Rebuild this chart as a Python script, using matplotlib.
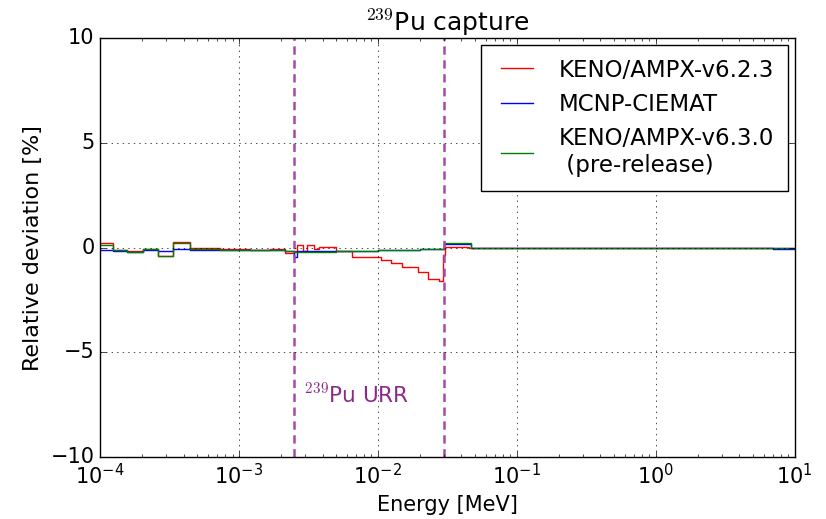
import matplotlib
matplotlib.use("Agg")
import numpy as np
import matplotlib.pyplot as plt

plt.style.use('classic')

# group boundaries [MeV] and relative deviations [%] for each library
red_edges = [1e-4, 1.24e-4, 1.56e-4, 2.04e-4, 2.61e-4, 3.35e-4, 4.44e-4, 7.3e-4,
             1.2e-3, 1.67e-3, 2.15e-3, 2.5e-3, 2.6e-3, 2.9e-3, 3.1e-3, 3.5e-3,
             3.8e-3, 5.0e-3, 6.5e-3, 1.05e-2, 1.25e-2, 1.5e-2, 1.95e-2, 2.3e-2,
             2.75e-2, 2.95e-2, 3.05e-2, 4.5e-2, 10.0]
red_vals = [0.20, -0.10, -0.15, -0.05, -0.40, 0.25, -0.02, -0.08,
            -0.12, -0.08, -0.25, -0.15, 0.12, -0.15, 0.10, -0.05,
            0.05, -0.15, -0.45, -0.57, -0.72, -0.95, -1.18, -1.52,
            -1.60, -0.35, 0.05, 0.0]

blue_edges = [1e-4, 1.24e-4, 1.56e-4, 2.04e-4, 2.61e-4, 3.35e-4, 4.44e-4, 7.3e-4,
              1.2e-3, 2.15e-3, 2.5e-3, 2.6e-3, 5.0e-3, 1.0e-2, 2.0e-2, 3.0e-2,
              4.7e-2, 7.0, 10.0]
blue_vals = [-0.10, -0.15, -0.20, -0.12, -0.15, -0.05, -0.10, -0.12,
             -0.10, -0.15, -0.45, -0.18, -0.15, -0.10, -0.05, 0.15,
             0.0, -0.05]

green_edges = [1e-4, 1.24e-4, 1.56e-4, 2.04e-4, 2.61e-4, 3.35e-4, 4.44e-4, 7.3e-4,
               1.2e-3, 1.67e-3, 2.15e-3, 2.5e-3, 5.0e-3, 1.0e-2, 2.0e-2, 3.0e-2,
               4.7e-2, 10.0]
green_vals = [0.10, -0.10, -0.20, -0.05, -0.38, 0.20, -0.05, -0.10,
              -0.10, -0.12, -0.15, -0.20, -0.15, -0.10, -0.05, 0.20,
              0.0]

urr_lo, urr_hi = 2.5e-3, 3.0e-2

fig = plt.figure(figsize=(8.26, 5.19), dpi=100, facecolor='white')
ax = fig.add_axes([0.121, 0.119, 0.841, 0.808])


def steps(edges, vals):
    return edges, list(vals) + [vals[-1]]


x, y = steps(red_edges, red_vals)
ax.step(x, y, where='post', color='r', lw=1.0, label='KENO/AMPX-v6.2.3')
x, y = steps(blue_edges, blue_vals)
ax.step(x, y, where='post', color='b', lw=1.0, label='MCNP-CIEMAT')
x, y = steps(green_edges, green_vals)
ax.step(x, y, where='post', color='g', lw=1.0,
        label='KENO/AMPX-v6.3.0\n (pre-release)')

for e in (urr_lo, urr_hi):
    ax.axvline(e, color='#a848a8', ls='--', lw=1.8, dashes=(6, 4))
ax.text(2.95e-3, -7.0, r'$^{239}$Pu URR', color='#8b2a8b', fontsize=15.5,
        va='center', ha='left')

ax.set_xscale('log')
ax.set_xlim(1e-4, 10)
ax.set_ylim(-10, 10)
ax.set_yticks([-10, -5, 0, 5, 10])
ax.tick_params(axis='both', labelsize=15)
ax.grid(True)
ax.set_xlabel('Energy [MeV]', fontsize=15)
ax.set_ylabel('Relative deviation [%]', fontsize=16)
ax.set_title(r'$^{239}$Pu capture', fontsize=18)

leg = ax.legend(loc='upper right', fontsize=16.5, handlelength=2.0,
                borderpad=0.6, borderaxespad=0.3)
leg.get_frame().set_linewidth(1.0)

fig.savefig('out.png', dpi=100, facecolor='white')
